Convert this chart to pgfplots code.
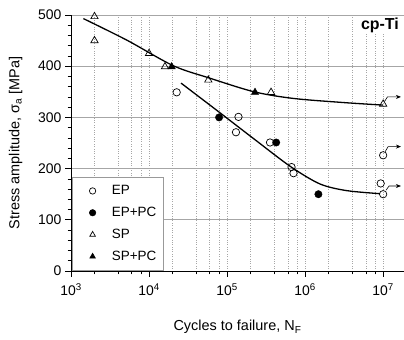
\documentclass[border=0pt]{standalone}
\usepackage{fontspec}
\setmainfont{Liberation Sans}
\usepackage{pgfplots}
\pgfplotsset{compat=1.18}
\usetikzlibrary{arrows.meta}
\begin{document}
\begin{tikzpicture}
\begin{axis}[
  scale only axis, width=333bp, height=256bp,
  xmode=log, xmin=1e3, xmax=1.85e7, ymin=0, ymax=500,
  axis x line=bottom, axis y line=left,
  axis line style={-, black, line width=0.8bp},
  xtick={1e3,1e4,1e5,1e6,1e7},
  xticklabels={10\textsuperscript{3},10\textsuperscript{4},10\textsuperscript{5},10\textsuperscript{6},10\textsuperscript{7}},
  minor xtick={2e3,4e3,6e3,8e3,2e4,4e4,6e4,8e4,2e5,4e5,6e5,8e5,2e6,4e6,6e6,8e6},
  ytick={0,100,200,300,400,500},
  minor ytick={20,40,60,80,120,140,160,180,220,240,260,280,320,340,360,380,420,440,460,480},
  /pgf/number format/assume math mode=true,
  tick align=outside, major tick length=6bp, minor tick length=3.5bp,
  tick style={black, line width=0.6bp},
  xmajorgrids, xminorgrids, ymajorgrids,
  major x grid style={gray!70, dotted, line width=0.6bp},
  minor x grid style={gray!70, dotted, line width=0.6bp},
  major y grid style={gray!70, line width=0.7bp},
  ticklabel style={font=\fontsize{14}{16}\selectfont},
  xticklabel style={yshift=-3bp},
  label style={font=\fontsize{14.5}{17}\selectfont},
  xlabel={Cycles to failure, N\textsubscript{F}},
  ylabel={Stress amplitude, σ\textsubscript{a} [MPa]},
  xlabel style={yshift=-18bp},
  ylabel style={yshift=9bp},
  legend style={at={(rel axis cs:0.003,0.003)}, anchor=south west, draw=gray!80, fill=white,
    font=\fontsize{13.5}{16}\selectfont, row sep=7bp, inner xsep=5bp, inner ysep=6bp,
    column sep=2bp, line width=0.6bp},
  legend image code/.code={\path (0bp,0bp) (30bp,0bp); \draw[#1, mark size=3.2bp] plot coordinates {(15bp,0bp)};},
  legend cell align=left,
]
\coordinate (ll) at (rel axis cs:0,0);
\coordinate (ur) at (rel axis cs:1,1);
% fitted curves
\addplot[black, line width=1.3bp, smooth, forget plot] coordinates {
  (1440,493) (5180,451) (2.04e4,401) (5.9e4,377) (2.22e5,350) (7.1e5,337) (3.1e6,329) (1e7,324)};
\addplot[black, line width=1.3bp, smooth, forget plot] coordinates {
  (2.57e4,367) (7.5e4,313) (2.21e5,258) (6.5e5,204) (1.55e6,170) (3.4e6,157) (9.1e6,151)};
% data
\addplot[only marks, mark=o, mark size=3.7bp, mark options={fill=white, line width=0.7bp}, black] coordinates {
  (2.26e4,349) (1.4e5,301) (1.3e5,271) (3.55e5,251) (6.7e5,203) (7.1e5,191) (1e7,226) (9.3e6,171) (1e7,150)};
\addlegendentry{EP}
\addplot[only marks, mark=*, mark size=3.7bp, black] coordinates {
  (7.9e4,300) (4.26e5,251) (1.48e6,150)};
\addlegendentry{EP+PC}
\addplot[only marks, mark=triangle, mark size=4.2bp, mark options={fill=white, line width=0.7bp}, black] coordinates {
  (2000,497) (2000,450) (1e4,425) (1.6e4,399) (5.75e4,373) (3.66e5,349) (1e7,326)};
\addlegendentry{SP}
\addplot[only marks, mark=triangle*, mark size=4.2bp, black] coordinates {
  (1.95e4,399) (2.28e5,349)};
\addlegendentry{SP+PC}
% run-out arrows
\draw[-{Stealth[length=5bp,width=4bp]}, line width=0.6bp] (axis cs:1.04e7,331) -- (axis cs:1.135e7,340) -- (axis cs:1.69e7,340);
\draw[-{Stealth[length=5bp,width=4bp]}, line width=0.6bp] (axis cs:1.06e7,233) -- (axis cs:1.16e7,243) -- (axis cs:1.69e7,243);
\draw[-{Stealth[length=5bp,width=4bp]}, line width=0.6bp] (axis cs:1.09e7,158) -- (axis cs:1.19e7,166) -- (axis cs:1.69e7,166);
\node[anchor=north east, fill=white, inner sep=1bp, font=\bfseries\fontsize{16}{18}\selectfont] at (rel axis cs:0.988,0.995) {cp-Ti};
\end{axis}
\pgfresetboundingbox
\path ([shift={(-71bp,-69bp)}]ll) rectangle ([shift={(0bp,15bp)}]ur);
\end{tikzpicture}
\end{document}
